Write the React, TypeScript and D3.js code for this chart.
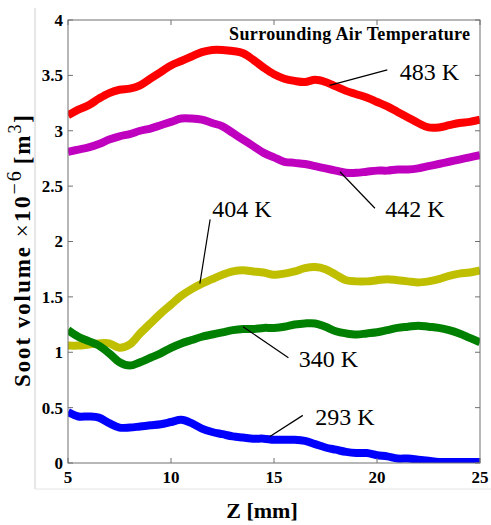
import React from "react";
import * as d3 from "d3";

// axial position grid [mm]
const zGrid = d3.range(5, 25.001, 0.5);

// soot volume x10^-6 m^3, one value per zGrid point
const soot483 = [3.14, 3.19, 3.23, 3.29, 3.34, 3.37, 3.38, 3.41, 3.47, 3.53, 3.59, 3.63, 3.67, 3.71, 3.73, 3.73, 3.72, 3.70, 3.64, 3.57, 3.51, 3.47, 3.45, 3.44, 3.46, 3.44, 3.40, 3.36, 3.33, 3.30, 3.26, 3.22, 3.17, 3.12, 3.07, 3.03, 3.03, 3.05, 3.07, 3.08, 3.10];
const soot442 = [2.81, 2.83, 2.85, 2.88, 2.92, 2.95, 2.97, 3.00, 3.02, 3.05, 3.08, 3.11, 3.11, 3.10, 3.07, 3.04, 2.98, 2.92, 2.86, 2.80, 2.76, 2.72, 2.71, 2.70, 2.68, 2.66, 2.64, 2.62, 2.62, 2.63, 2.64, 2.64, 2.65, 2.65, 2.66, 2.68, 2.70, 2.72, 2.74, 2.76, 2.78];
const soot404 = [1.06, 1.06, 1.07, 1.08, 1.08, 1.04, 1.07, 1.17, 1.26, 1.35, 1.43, 1.51, 1.57, 1.62, 1.66, 1.70, 1.73, 1.74, 1.73, 1.72, 1.70, 1.71, 1.73, 1.76, 1.77, 1.75, 1.70, 1.65, 1.64, 1.64, 1.65, 1.66, 1.65, 1.64, 1.63, 1.64, 1.66, 1.69, 1.71, 1.72, 1.74];
const soot340 = [1.20, 1.14, 1.10, 1.06, 0.99, 0.91, 0.88, 0.91, 0.95, 0.99, 1.04, 1.08, 1.11, 1.14, 1.16, 1.18, 1.20, 1.21, 1.21, 1.22, 1.22, 1.23, 1.25, 1.26, 1.26, 1.23, 1.19, 1.17, 1.16, 1.17, 1.18, 1.20, 1.22, 1.23, 1.24, 1.23, 1.22, 1.20, 1.17, 1.13, 1.09];
const soot293 = [0.46, 0.42, 0.42, 0.41, 0.36, 0.32, 0.32, 0.33, 0.34, 0.35, 0.37, 0.39, 0.36, 0.31, 0.28, 0.26, 0.24, 0.23, 0.22, 0.22, 0.21, 0.21, 0.21, 0.20, 0.17, 0.14, 0.12, 0.10, 0.09, 0.09, 0.07, 0.06, 0.04, 0.04, 0.03, 0.02, 0.01, 0.01, 0.01, 0.01, 0.01];

const seriesNames = ["483 K", "442 K", "404 K", "340 K", "293 K"];
const seriesValues = [soot483, soot442, soot404, soot340, soot293];
const seriesColors = ["#ff0000", "#bf00bf", "#bfbf00", "#008000", "#0000ff"];

const xTicks = [5, 10, 15, 20, 25];
const yTicks = [0, 0.5, 1, 1.5, 2, 2.5, 3, 3.5, 4];

// label callouts in data units: leader line from (x1,y1) to (x2,y2), text at (tx,ty)
const callouts = [
  { label: "483 K", x1: 17.7, y1: 3.41, x2: 20.5, y2: 3.55, tx: 21.1, ty: 3.46 },
  { label: "442 K", x1: 18.2, y1: 2.63, x2: 19.9, y2: 2.3, tx: 20.4, ty: 2.22 },
  { label: "404 K", x1: 11.9, y1: 2.2, x2: 11.4, y2: 1.62, tx: 12.0, ty: 2.22 },
  { label: "340 K", x1: 13.5, y1: 1.23, x2: 15.7, y2: 0.95, tx: 16.2, ty: 0.87 },
  { label: "293 K", x1: 14.8, y1: 0.24, x2: 16.4, y2: 0.43, tx: 17.0, ty: 0.34 },
];

const W = 491;
const H = 525;
const m = { left: 68, right: 11, top: 20, bottom: 62 };

export default function App() {
  const x = d3.scaleLinear().domain([5, 25]).range([m.left, W - m.right]);
  const y = d3.scaleLinear().domain([0, 4]).range([H - m.bottom, m.top]);
  const line = d3
    .line<number>()
    .x((_, i) => x(zGrid[i]))
    .y((d) => y(d))
    .curve(d3.curveCatmullRom);

  const x0 = x(5), x1 = x(25), y0 = y(0), y1 = y(4);
  const tick = 5;
  const axisColor = "#707070";

  return (
    <svg
      width={W}
      height={H}
      style={{ position: "absolute", left: 0, top: 0, background: "#fff", fontFamily: "Liberation Serif, Times New Roman, serif" }}
    >
      <defs>
        <clipPath id="plot">
          <rect x={x0} y={y1} width={x1 - x0} height={y0 - y1} />
        </clipPath>
      </defs>

      {/* figure frame */}
      <line x1={35} y1={8} x2={35} y2={489} stroke="#cfcfcf" />
      <line x1={35} y1={489} x2={W} y2={489} stroke="#e4e4e4" />

      <g clipPath="url(#plot)">
        {seriesValues.map((vals, i) => (
          <path key={seriesNames[i]} d={line(vals) || ""} fill="none" stroke={seriesColors[i]} strokeWidth={8} />
        ))}
      </g>

      {/* axes box and inward ticks */}
      <rect x={x0} y={y1} width={x1 - x0} height={y0 - y1} fill="none" stroke={axisColor} strokeWidth={1} />
      {xTicks.map((t) => (
        <g key={"x" + t}>
          <line x1={x(t)} x2={x(t)} y1={y0} y2={y0 - tick} stroke={axisColor} />
          <line x1={x(t)} x2={x(t)} y1={y1} y2={y1 + tick} stroke={axisColor} />
          <text x={x(t)} y={y0 + 20} textAnchor="middle" fontWeight="bold" fontSize={17}>
            {t}
          </text>
        </g>
      ))}
      {yTicks.map((t) => (
        <g key={"y" + t}>
          <line x1={x0} x2={x0 + tick} y1={y(t)} y2={y(t)} stroke={axisColor} />
          <line x1={x1} x2={x1 - tick} y1={y(t)} y2={y(t)} stroke={axisColor} />
          <text x={x0 - 5} y={y(t)} dy="0.35em" textAnchor="end" fontWeight="bold" fontSize={17}>
            {t}
          </text>
        </g>
      ))}

      {/* axis titles */}
      <text x={262} y={518} textAnchor="middle" fontWeight="bold" fontSize={22}>
        Z [mm]
      </text>
      <text transform="translate(30, 387) rotate(-90)" fontWeight="bold" fontSize={23} textLength={272} lengthAdjust="spacing">
        Soot volume
        <tspan dx={8} fontWeight="normal">×</tspan>
        <tspan fontSize={24}>10</tspan>
        <tspan dy={-9} fontSize={20} fontWeight="normal">−6</tspan>
        <tspan dy={9} dx={5}>[m</tspan>
        <tspan dy={-9} fontSize={18} fontWeight="normal">3</tspan>
        <tspan dy={9}>]</tspan>
      </text>

      <text x={x(12.82)} y={y(3.82)} fontWeight="bold" fontSize={18} textLength={241} lengthAdjust="spacing">
        Surrounding Air Temperature
      </text>

      {callouts.map((c) => (
        <g key={c.label}>
          <line x1={x(c.x1)} y1={y(c.y1)} x2={x(c.x2)} y2={y(c.y2)} stroke="#000" strokeWidth={1.2} />
          <text x={x(c.tx)} y={y(c.ty)} fontSize={24}>
            {c.label}
          </text>
        </g>
      ))}
    </svg>
  );
}
